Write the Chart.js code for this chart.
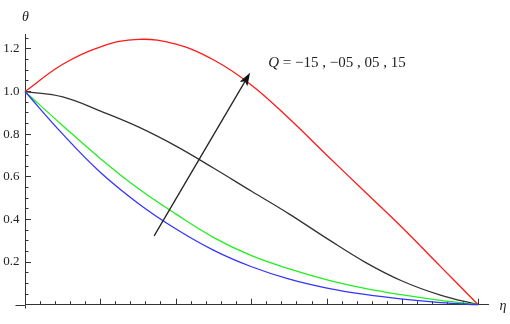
<!DOCTYPE html>
<html>
<head>
<meta charset="utf-8">
<script src="https://cdn.jsdelivr.net/npm/chart.js@4.4.1/dist/chart.umd.min.js"></script>
<style>
  html, body { margin: 0; padding: 0; background: #fff; }
  #wrap { width: 510px; height: 324px; }
</style>
</head>
<body>
<div id="wrap"><canvas id="thetaChart" width="510" height="324"></canvas></div>
<script>
// eta samples and theta profiles
const eta       = [0, 0.5, 1, 1.5, 2, 2.5, 3, 3.5, 4, 4.5, 5, 5.5, 6];
const thetaQm15 = [1, 0.8, 0.62, 0.475, 0.355, 0.255, 0.178, 0.12, 0.078, 0.048, 0.026, 0.01, 0];
const thetaQm05 = [1, 0.84, 0.685, 0.545, 0.425, 0.315, 0.23, 0.168, 0.117, 0.077, 0.046, 0.02, 0];
const thetaQp05 = [1, 0.975, 0.908, 0.834, 0.744, 0.64, 0.532, 0.425, 0.31, 0.2, 0.11, 0.045, 0];
const thetaQp15 = [1, 1.128, 1.21, 1.245, 1.222, 1.148, 1.03, 0.872, 0.7, 0.53, 0.36, 0.18, 0];

const yMajorTicks = [0.2, 0.4, 0.6, 0.8, 1.0, 1.2];
const yMinorTicks = [0.05, 0.1, 0.15, 0.25, 0.3, 0.35, 0.45, 0.5, 0.55, 0.65, 0.7, 0.75,
                     0.85, 0.9, 0.95, 1.05, 1.1, 1.15, 1.25];
const xMajorTicks = [1, 2, 3, 4, 5, 6];
const xMinorTicks = [0.2, 0.4, 0.6, 0.8, 1.2, 1.4, 1.6, 1.8, 2.2, 2.4, 2.6, 2.8, 3.2, 3.4, 3.6, 3.8,
                     4.2, 4.4, 4.6, 4.8, 5.2, 5.4, 5.6, 5.8];

const qText = ' = −15 , −05 , 05 , 15';
const arrowFrom = [1.71, 0.323];
const arrowTo = [2.98, 1.088];
const qTextAt = [3.22, 1.135];

const serif = '"Liberation Serif", "Times New Roman", serif';
const axisColor = '#333';

function series(vals) {
  return eta.map((e, i) => ({x: e, y: vals[i]}));
}

function fixedTicks(list) {
  return scale => { scale.ticks = list.map(v => ({value: v})); };
}

// arrow, Q label, axis names and the little axis overhangs
const annotations = {
  id: 'annotations',
  afterDraw(chart) {
    const {ctx, scales: {x, y}} = chart;
    ctx.save();

    const x0 = Math.round(x.getPixelForValue(0)) + 0.5;
    const y0 = Math.round(y.getPixelForValue(0)) + 0.5;
    ctx.strokeStyle = axisColor;
    ctx.lineWidth = 1;
    ctx.beginPath();
    ctx.moveTo(x0 - 10, y0); ctx.lineTo(x0, y0);
    ctx.moveTo(x0, y0); ctx.lineTo(x0, y0 + 3);
    ctx.stroke();

    const ax = x.getPixelForValue(arrowFrom[0]), ay = y.getPixelForValue(arrowFrom[1]);
    const bx = x.getPixelForValue(arrowTo[0]), by = y.getPixelForValue(arrowTo[1]);
    const ang = Math.atan2(by - ay, bx - ax);
    const dx = Math.cos(ang), dy = Math.sin(ang);
    const headLen = 13, headW = 4.5;
    ctx.strokeStyle = '#222';
    ctx.fillStyle = '#111';
    ctx.lineWidth = 1.3;
    ctx.beginPath();
    ctx.moveTo(ax, ay);
    ctx.lineTo(bx - dx * (headLen - 3), by - dy * (headLen - 3));
    ctx.stroke();
    ctx.beginPath();
    ctx.moveTo(bx, by);
    ctx.lineTo(bx - dx * headLen - dy * headW, by - dy * headLen + dx * headW);
    ctx.lineTo(bx - dx * (headLen - 3), by - dy * (headLen - 3));
    ctx.lineTo(bx - dx * headLen + dy * headW, by - dy * headLen - dx * headW);
    ctx.closePath();
    ctx.fill();

    ctx.fillStyle = '#222';
    ctx.textBaseline = 'middle';
    const tx = x.getPixelForValue(qTextAt[0]), ty = y.getPixelForValue(qTextAt[1]);
    ctx.font = 'italic 15px ' + serif;
    ctx.textAlign = 'left';
    ctx.fillText('Q', tx, ty);
    const qw = ctx.measureText('Q').width;
    ctx.font = '15px ' + serif;
    ctx.fillText(qText, tx + qw, ty);

    ctx.font = 'italic 14px ' + serif;
    ctx.textAlign = 'center';
    ctx.fillText('θ', x0, 17);
    ctx.fillText('η', 503, y0 + 1);
    ctx.restore();
  }
};

const lineStyle = {borderWidth: 1.3, pointRadius: 0, tension: 0.4, clip: 4};

new Chart(document.getElementById('thetaChart'), {
  type: 'line',
  data: {
    datasets: [
      {label: 'Q = -1.5', data: series(thetaQm15), borderColor: '#3535ff', ...lineStyle},
      {label: 'Q = -0.5', data: series(thetaQm05), borderColor: '#22ee22', ...lineStyle},
      {label: 'Q = 0.5', data: series(thetaQp05), borderColor: '#333333', ...lineStyle},
      {label: 'Q = 1.5', data: series(thetaQp15), borderColor: '#ff1a1a', ...lineStyle}
    ]
  },
  options: {
    responsive: false,
    animation: false,
    layout: {padding: {top: 34, right: 22, bottom: 0, left: 0}},
    plugins: {legend: {display: false}, tooltip: {enabled: false}},
    scales: {
      x: {
        type: 'linear', position: 'bottom', weight: 1,
        min: 0, max: 6.13,
        afterBuildTicks: fixedTicks(xMajorTicks),
        afterFit: s => { s.height = 4; },
        grid: {drawOnChartArea: false, tickLength: -6, tickColor: axisColor, tickWidth: 1},
        border: {color: axisColor, width: 1},
        ticks: {display: false}
      },
      xMinor: {
        type: 'linear', position: 'bottom', weight: 0,
        min: 0, max: 6.13,
        afterBuildTicks: fixedTicks(xMinorTicks),
        afterFit: s => { s.height = 0; },
        grid: {drawOnChartArea: false, tickLength: -3.5, tickColor: axisColor, tickWidth: 1},
        border: {display: false},
        ticks: {display: false}
      },
      y: {
        type: 'linear', position: 'left', weight: 1,
        min: 0, max: 1.27,
        afterBuildTicks: fixedTicks(yMajorTicks),
        afterFit: s => { s.width = 25; },
        grid: {drawOnChartArea: false, tickLength: -6, tickColor: axisColor, tickWidth: 1},
        border: {color: axisColor, width: 1},
        ticks: {
          padding: 11.5,
          color: '#222',
          font: {family: serif, size: 13},
          callback: v => v.toFixed(1)
        }
      },
      yMinor: {
        type: 'linear', position: 'left', weight: 0,
        min: 0, max: 1.27,
        afterBuildTicks: fixedTicks(yMinorTicks),
        afterFit: s => { s.width = 0; },
        grid: {drawOnChartArea: false, tickLength: -3.5, tickColor: axisColor, tickWidth: 1},
        border: {display: false},
        ticks: {display: false}
      }
    }
  },
  plugins: [annotations]
});
</script>
</body>
</html>
